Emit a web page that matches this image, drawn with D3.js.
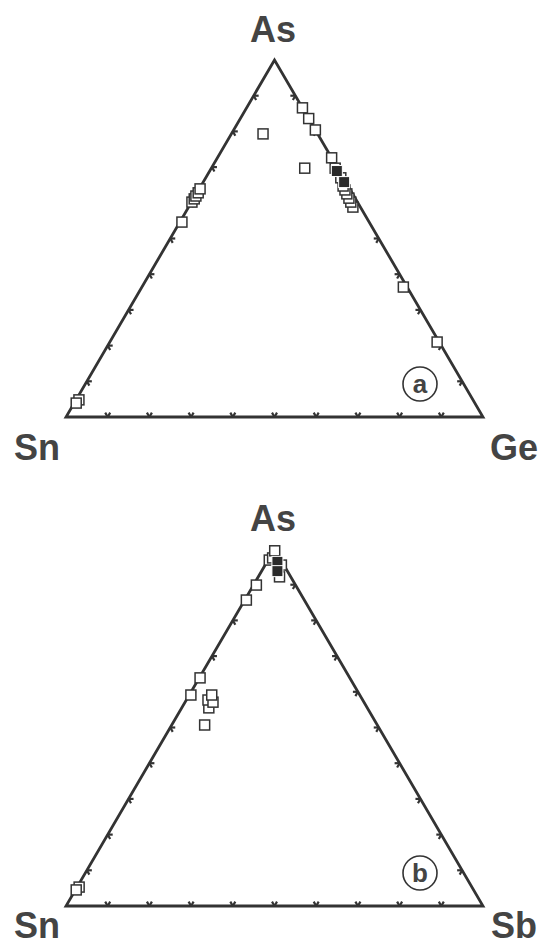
<!DOCTYPE html>
<html><head><meta charset="utf-8">
<script src="https://cdn.jsdelivr.net/npm/d3@7/dist/d3.min.js"></script>
<style>body{margin:0;background:#fff}svg{display:block}</style>
</head><body>
<svg id="c" width="539" height="947"></svg>
<script>
// Panel a: As - Sn - Ge (percent)
const panelA_labels = ["As", "Sn", "Ge"];
const panelA_open = [ // [As, Sn, Ge]
  [86.6, 0.0, 13.4], [83.6, 0.0, 16.4], [80.4, 0.0, 19.6], [79.3, 13.1, 7.6],
  [72.6, 0.0, 27.4], [69.7, 7.9, 22.4],
  [58.8, 1.8, 39.4], [60.2, 1.6, 38.2], [61.3, 1.5, 37.2], [62.5, 1.4, 36.1],
  [63.6, 1.3, 35.1], [64.7, 1.2, 34.1], [67.0, 0.6, 32.4], [69.7, 0.6, 29.7],
  [36.4, 0.9, 62.7], [21.0, 0.5, 78.5],
  [60.2, 39.7, 0.1], [61.1, 38.7, 0.2], [61.9, 37.9, 0.2], [62.8, 36.9, 0.3], [63.9, 35.9, 0.2],
  [54.6, 44.9, 0.5],
  [4.8, 94.5, 0.7], [3.9, 95.6, 0.5]
];
const panelA_filled = [[68.9, 0.6, 30.5], [65.8, 0.4, 33.8]];

// Panel b: As - Sn - Sb (percent)
const panelB_labels = ["As", "Sn", "Sb"];
const panelB_open = [ // [As, Sn, Sb]
  [92.2, 2.7, 5.1], [95.5, 0.6, 3.9], [96.9, 2.8, 0.3], [97.5, 1.7, 0.8], [99.5, 0.2, 0.3],
  [89.9, 9.4, 0.7], [85.7, 13.9, 0.4],
  [63.9, 35.9, 0.2], [59.1, 40.5, 0.4],
  [55.5, 38.0, 6.5], [57.7, 37.1, 5.2], [57.1, 36.2, 6.7], [59.1, 35.5, 5.4],
  [50.7, 41.4, 7.9],
  [5.3, 94.2, 0.5], [4.5, 95.3, 0.2]
];
const panelB_filled = [[96.4, 1.1, 2.5], [93.8, 2.4, 3.8]];
const tickValues = [10, 20, 30, 40, 50, 60, 70, 80, 90];

const svg = d3.select("#c");
const ink = "#333";
const textCol = "#444";

function panel(cfg) {
  const g = svg.append("g");
  const Lx = 66, Rx = 483;
  const yS = d3.scaleLinear().domain([0, 100]).range([cfg.base, cfg.apex]);
  const xS = d3.scaleLinear().domain([0, 100]).range([Lx, Rx]);
  // d = [top, left, right]
  const px = d => xS(d[2] + d[0] / 2);
  const py = d => yS(d[0]);
  const A = [100, 0, 0], L = [0, 100, 0], R = [0, 0, 100];
  g.append("path")
    .attr("d", d3.line().x(px).y(py)([L, R, A, L]) + "Z")
    .attr("fill", "none").attr("stroke", ink).attr("stroke-width", 2.8)
    .attr("stroke-linejoin", "miter");
  // ticks
  const tl = 5;
  const tick = (d, dirs) => dirs.forEach(([dx, dy]) => {
    g.append("line").attr("x1", px(d)).attr("y1", py(d))
      .attr("x2", px(d) + dx * tl).attr("y2", py(d) + dy * tl)
      .attr("stroke", ink).attr("stroke-width", 2.2);
  });
  const c60 = 0.5, s60 = 0.866;
  tickValues.forEach(v => {
    tick([0, 100 - v, v], [[-c60, -s60], [c60, -s60]]);   // base
    tick([v, 100 - v, 0], [[1, 0], [c60, s60]]);            // left side
    tick([v, 0, 100 - v], [[-1, 0], [-c60, s60]]);          // right side
  });
  const sz = 10;
  g.selectAll(".o").data(cfg.open).join("rect")
    .attr("x", d => px(d) - sz / 2).attr("y", d => py(d) - sz / 2)
    .attr("width", sz).attr("height", sz)
    .attr("fill", "#fff").attr("stroke", ink).attr("stroke-width", 1.5);
  g.selectAll(".f").data(cfg.filled).join("rect")
    .attr("x", d => px(d) - 5.5).attr("y", d => py(d) - 5.5)
    .attr("width", 11).attr("height", 11)
    .attr("fill", "#2a2a2a").attr("stroke", "#fff").attr("stroke-width", 1);
  // labels
  const fs = 36;
  g.append("text").text(cfg.labels[0]).attr("x", 273).attr("y", cfg.apex - 18)
    .attr("text-anchor", "middle");
  g.append("text").text(cfg.labels[1]).attr("x", 37).attr("y", cfg.base + cfg.lab)
    .attr("text-anchor", "middle");
  g.append("text").text(cfg.labels[2]).attr("x", 514).attr("y", cfg.base + cfg.lab)
    .attr("text-anchor", "middle");
  g.selectAll("text").attr("font-family", "'Liberation Sans', Arial, sans-serif")
    .attr("font-weight", "bold").attr("font-size", fs).attr("fill", textCol);
  g.append("circle").attr("cx", 420).attr("cy", cfg.base - 33).attr("r", 17)
    .attr("fill", "none").attr("stroke", ink).attr("stroke-width", 1.6);
  g.append("text").text(cfg.tag).attr("x", 420).attr("y", cfg.base - 24)
    .attr("text-anchor", "middle")
    .attr("font-family", "'Liberation Sans', Arial, sans-serif")
    .attr("font-weight", "bold").attr("font-size", 26).attr("fill", textCol);
}

panel({apex: 60, base: 417, open: panelA_open, filled: panelA_filled, labels: panelA_labels, tag: "a", lab: 43});
panel({apex: 549, base: 906, open: panelB_open, filled: panelB_filled, labels: panelB_labels, tag: "b", lab: 32});
</script>
</body></html>
